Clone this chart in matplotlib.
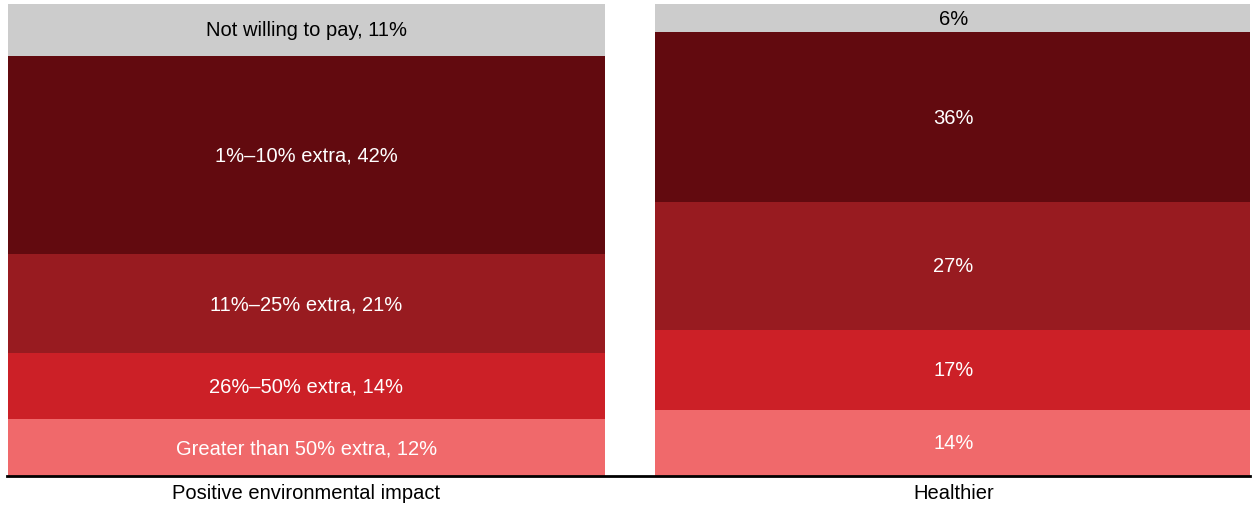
import matplotlib.pyplot as plt

plt.rcParams["font.family"] = ["Liberation Sans", "DejaVu Sans"]

# ==================================
# Data
# ==================================
categories = ["Positive environmental impact", "Healthier"]
segments = [
    "Greater than 50% extra",
    "26%\u201350% extra",
    "11%\u201325% extra",
    "1%\u201310% extra",
    "Not willing to pay",
]
environmental = [12, 14, 21, 42, 11]
healthier = [14, 17, 27, 36, 6]
colors = ["#f0696b", "#cc2027", "#981b20", "#620a0f", "#cccccc"]
text_colors = ["white", "white", "white", "white", "black"]

# ==================================
# Plot
# ==================================
fig = plt.figure(figsize=(12.52, 5.06), dpi=100)
ax = fig.add_axes([7 / 1252, 1 - 477 / 506, 1243 / 1252, 472 / 506])

series = [environmental, healthier]
width = 0.922

for i, values in enumerate(series):
    bottom = 0
    for j, v in enumerate(values):
        ax.bar(i, v, width=width, bottom=bottom, color=colors[j], linewidth=0)
        if i == 0:
            label = f"{segments[j]}, {v}%"
        else:
            label = f"{v}%"
        ax.text(i, bottom + v / 2, label, ha="center", va="center",
                color=text_colors[j], fontsize=14.5)
        bottom += v

ax.set_xlim(-0.462, 1.458)
ax.set_ylim(0, 100)
ax.set_xticks([0, 1])
ax.set_xticklabels(categories, fontsize=14.5)
ax.tick_params(axis="x", length=0, pad=5)
ax.set_yticks([])

for side in ["top", "right", "left"]:
    ax.spines[side].set_visible(False)
ax.spines["bottom"].set_linewidth(2)
ax.spines["bottom"].set_color("black")

fig.savefig("out.png", dpi=100)
